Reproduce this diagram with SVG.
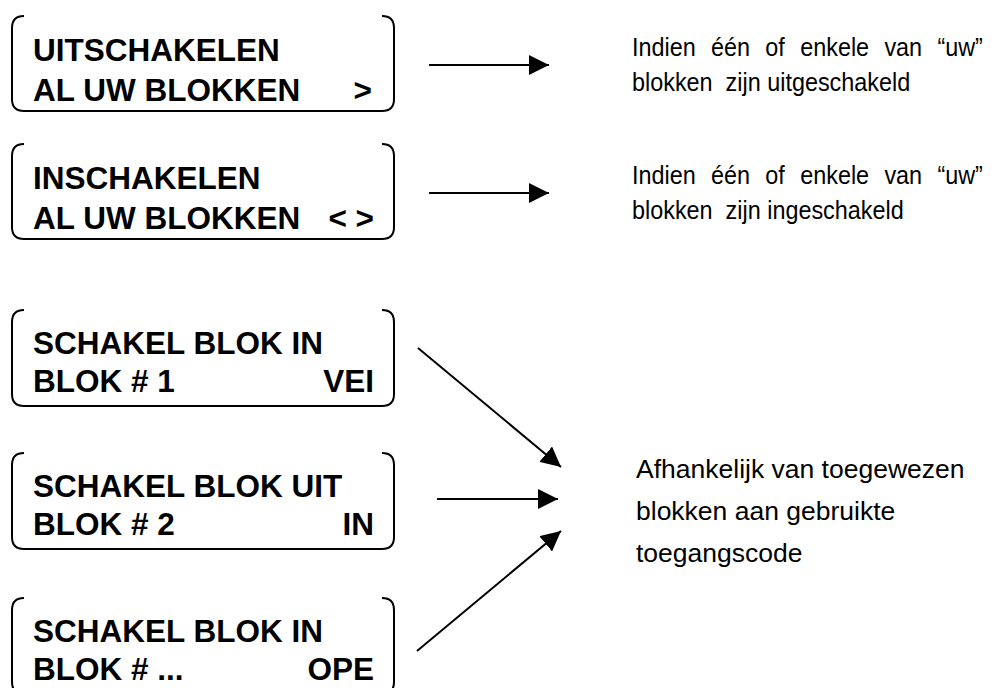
<svg xmlns="http://www.w3.org/2000/svg" width="1001" height="688" viewBox="0 0 1001 688">
<style>
.box{fill:none;stroke:#000;stroke-width:2}
.b{font-family:"Liberation Sans",Arial,sans-serif;font-weight:bold;font-size:31.5px;fill:#000}
.t{font-family:"Liberation Sans",Arial,sans-serif;font-size:26px;fill:#000;white-space:pre}
.n{font-family:"Liberation Sans",Arial,sans-serif;font-size:26.5px;fill:#000}
.c{stroke:#000;stroke-width:2;fill:none;marker-end:url(#ah)}
</style>
<defs>
<marker id="ah" markerWidth="10" markerHeight="10" refX="10" refY="5" orient="auto" markerUnits="strokeWidth">
<path d="M0,0 L10,5 L0,10 Z" fill="#000"/>
</marker>
</defs>
<g id="node1">
<path class="box" d="M24,16 Q12,16 12,28 V99 Q12,111 24,111 H382 Q394,111 394,99 V28 Q394,16 382,16"/>
<text class="b" x="33" y="61">UITSCHAKELEN</text>
<text class="b" x="33" y="101">AL UW BLOKKEN</text>
<text class="b" x="372" y="101" text-anchor="end">&gt;</text>
</g>
<g id="node2">
<path class="box" d="M24,144 Q12,144 12,156 V227 Q12,239 24,239 H382 Q394,239 394,227 V156 Q394,144 382,144"/>
<text class="b" x="33" y="189">INSCHAKELEN</text>
<text class="b" x="33" y="229">AL UW BLOKKEN</text>
<text class="b" x="374" y="229" text-anchor="end">&lt; &gt;</text>
</g>
<g id="node3">
<path class="box" d="M24,310 Q12,310 12,322 V394 Q12,406 24,406 H382 Q394,406 394,394 V322 Q394,310 382,310"/>
<text class="b" x="33" y="354">SCHAKEL BLOK IN</text>
<text class="b" x="33" y="392">BLOK # 1</text>
<text class="b" x="374" y="392" text-anchor="end">VEI</text>
</g>
<g id="node4">
<path class="box" d="M24,453 Q12,453 12,465 V537 Q12,549 24,549 H382 Q394,549 394,537 V465 Q394,453 382,453"/>
<text class="b" x="33" y="497">SCHAKEL BLOK UIT</text>
<text class="b" x="33" y="535">BLOK # 2</text>
<text class="b" x="374" y="535" text-anchor="end">IN</text>
</g>
<g id="node5">
<path class="box" d="M24,598 Q12,598 12,610 V682 Q12,694 24,694 H382 Q394,694 394,682 V610 Q394,598 382,598"/>
<text class="b" x="33" y="642">SCHAKEL BLOK IN</text>
<text class="b" x="33" y="680">BLOK # ...</text>
<text class="b" x="374" y="680" text-anchor="end">OPE</text>
</g>
<g id="note1" transform="translate(632,0) scale(0.9,1)">
<text class="t" x="0" y="56" word-spacing="9.8">Indien één of enkele van “uw”</text>
<text class="t" x="0" y="91" xml:space="preserve">blokken  zijn uitgeschakeld</text>
</g>
<g id="note2" transform="translate(632,0) scale(0.9,1)">
<text class="t" x="0" y="184" word-spacing="9.8">Indien één of enkele van “uw”</text>
<text class="t" x="0" y="219" xml:space="preserve">blokken  zijn ingeschakeld</text>
</g>
<g id="note3">
<text class="n" x="636" y="478">Afhankelijk van toegewezen</text>
<text class="n" x="636" y="520">blokken aan gebruikte</text>
<text class="n" x="636" y="562">toegangscode</text>
</g>
<g id="connectors">
<line class="c" x1="429" y1="65" x2="549" y2="65"/>
<line class="c" x1="429" y1="193" x2="549" y2="193"/>
<line class="c" x1="418" y1="348" x2="561" y2="467"/>
<line class="c" x1="437" y1="499" x2="558" y2="499"/>
<line class="c" x1="417" y1="651" x2="561" y2="531"/>
</g>
</svg>
